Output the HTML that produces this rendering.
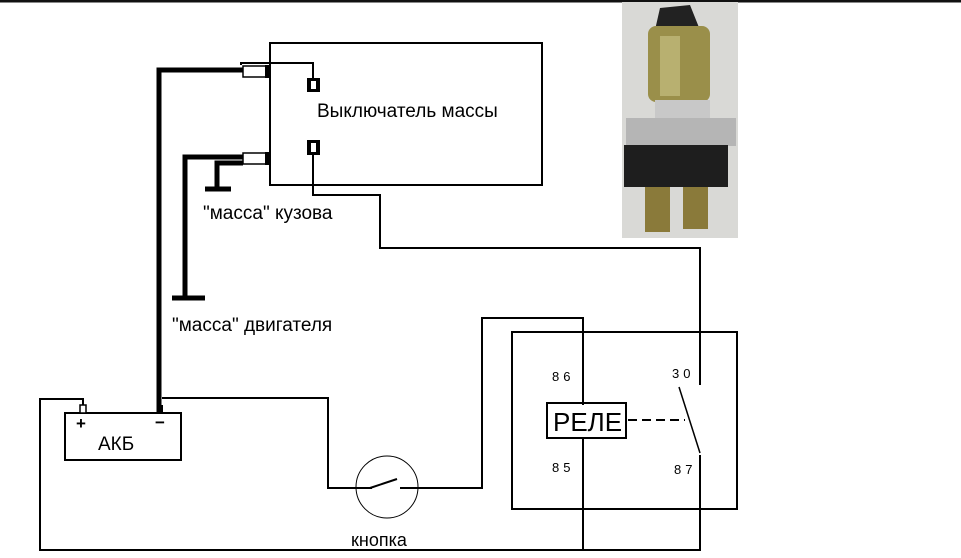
<!DOCTYPE html>
<html><head><meta charset="utf-8"><style>
html,body{margin:0;padding:0;background:#fff;width:961px;height:558px;overflow:hidden}
svg{display:block}
text{font-family:"Liberation Sans",sans-serif;fill:#000}
</style></head><body>
<svg width="961" height="558" viewBox="0 0 961 558" xmlns="http://www.w3.org/2000/svg">
<rect x="0" y="0" width="961" height="558" fill="#fff"/>
<rect x="0" y="0" width="961" height="2.5" fill="#111"/>
<!-- photo -->
<rect x="622" y="2" width="116" height="236" fill="#d9d9d6"/>
<path d="M660 8 L690 5 L700 30 L655 30 Z" fill="#222"/>
<rect x="648" y="26" width="62" height="76" rx="8" fill="#9a8f4a"/>
<rect x="660" y="36" width="20" height="60" fill="#b8b070"/>
<rect x="655" y="100" width="55" height="20" fill="#c8c8c8"/>
<rect x="626" y="118" width="110" height="28" fill="#b5b5b5"/>
<rect x="624" y="145" width="104" height="42" fill="#1e1e1e"/>
<rect x="645" y="187" width="25" height="45" fill="#8a7a3a"/>
<rect x="683" y="187" width="25" height="42" fill="#8a7a3a"/>
<g fill="none" stroke="#000" stroke-width="2">
<rect x="270" y="43" width="272" height="142"/>
<polyline points="241,65 241,63 313,63 313,80"/>
<rect x="243" y="66" width="24" height="11" stroke-width="1.5"/>
<rect x="243" y="153" width="24" height="11" stroke-width="1.5"/>
<polyline points="313,153 313,195 380,195 380,248 700,248 700,385"/>
<rect x="65" y="413" width="116" height="47"/>
<polyline points="83,408 83,399 40,399 40,550 700,550 700,455"/>
<polyline points="162,398 328,398 328,488 372,488"/>
<polyline points="400,488 482,488 482,318 583,318 583,405"/>
<line x1="583" y1="438" x2="583" y2="550"/>
<rect x="512" y="332" width="225" height="177"/>
<rect x="547" y="403" width="79" height="35"/>
<line x1="628" y1="420" x2="685" y2="420" stroke-dasharray="9,5"/>
<line x1="679" y1="387" x2="700" y2="453" stroke-width="1.5"/>
</g>
<circle cx="387" cy="487" r="31" fill="none" stroke="#000" stroke-width="1"/>
<line x1="370" y1="488" x2="397" y2="479" stroke="#000" stroke-width="2"/>
<g fill="none" stroke="#000" stroke-width="5">
<polyline points="243,70 159,70 159,412"/>
<polyline points="243,157 185,157 185,298"/>
<polyline points="243,163 217,163 217,188"/>
<line x1="172" y1="298" x2="205" y2="298"/>
<line x1="205" y1="189" x2="231" y2="189"/>
</g>
<rect x="265" y="65" width="5" height="13" fill="#000"/>
<rect x="265" y="152" width="5" height="13" fill="#000"/>
<rect x="307" y="78" width="13" height="14" fill="#000"/><rect x="311" y="81" width="5" height="8" fill="#fff"/>
<rect x="307" y="140" width="13" height="15" fill="#000"/><rect x="311" y="143" width="5" height="9" fill="#fff"/>
<rect x="80" y="405" width="6" height="8" fill="#fff" stroke="#000" stroke-width="1.5"/>
<rect x="157" y="405" width="6" height="8" fill="#000"/>
<text x="317" y="117" font-size="19">Выключатель массы</text>
<text x="203" y="219" font-size="19">"масса" кузова</text>
<text x="172" y="331" font-size="19">"масса" двигателя</text>
<text x="76" y="429" font-size="17" font-weight="bold">+</text>
<text x="155" y="428" font-size="17" font-weight="bold">−</text>
<text x="98" y="450" font-size="19">АКБ</text>
<text x="351" y="546" font-size="18">кнопка</text>
<text x="553" y="431" font-size="26">РЕЛЕ</text>
<text x="552" y="381" font-size="13" letter-spacing="4">86</text>
<text x="552" y="472" font-size="13" letter-spacing="4">85</text>
<text x="672" y="378" font-size="13" letter-spacing="4">30</text>
<text x="674" y="474" font-size="13" letter-spacing="4">87</text>
</svg>
</body></html>
